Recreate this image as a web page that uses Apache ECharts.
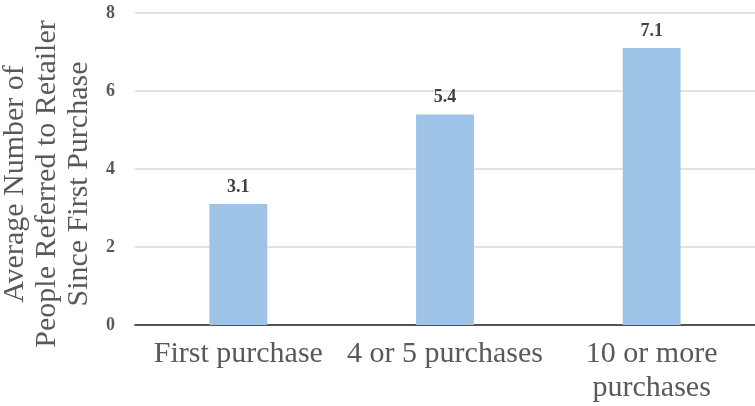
<!DOCTYPE html>
<html>
<head>
<meta charset="utf-8">
<script src="https://cdn.jsdelivr.net/npm/echarts@6/dist/echarts.min.js"></script>
<style>
  html, body { margin: 0; padding: 0; background: #fff; }
  #chart { width: 755px; height: 406px; }
</style>
</head>
<body>
<div id="chart"></div>
<script>
// 数据
const categories = ['First purchase', '4 or 5 purchases', '10 or more\npurchases'];
const referrals = [3.1, 5.4, 7.1];
const yTicks = [0, 2, 4, 6, 8];

const font = '"Liberation Serif", "DejaVu Serif", serif';

let myChart = echarts.init(document.getElementById('chart'));
let option = {
  animation: false,
  textStyle: { fontFamily: font },
  grid: { left: 135, right: 0, top: 13, bottom: 81, outerBoundsMode: 'none' },
  xAxis: {
    type: 'category',
    data: categories,
    axisTick: { show: false },
    axisLine: { lineStyle: { color: '#262626', width: 1.5 } },
    axisLabel: {
      interval: 0,
      margin: 12,
      fontSize: 30,
      lineHeight: 34,
      color: '#595959',
      fontFamily: font
    }
  },
  yAxis: {
    type: 'value',
    min: yTicks[0],
    max: yTicks[yTicks.length - 1],
    interval: 2,
    name: 'Average Number of\nPeople Referred to Retailer\nSince First Purchase',
    nameLocation: 'middle',
    nameRotate: 90,
    nameGap: 37,
    nameTextStyle: {
      fontSize: 30,
      lineHeight: 32,
      color: '#595959',
      fontFamily: font,
      padding: [0, 30, 0, 0]
    },
    axisLine: { show: false },
    axisTick: { show: false },
    splitLine: { lineStyle: { color: '#D9D9D9', width: 1.5 } },
    axisLabel: {
      margin: 20,
      fontSize: 18,
      fontWeight: 'bold',
      color: '#595959',
      fontFamily: font
    }
  },
  series: [{
    type: 'bar',
    data: referrals,
    barWidth: '28%',
    itemStyle: { color: '#9DC3E6' },
    label: {
      show: true,
      position: 'top',
      distance: 8,
      fontSize: 18,
      fontWeight: 'bold',
      color: '#404040',
      fontFamily: font
    }
  }]
};
myChart.setOption(option);
</script>
</body>
</html>
